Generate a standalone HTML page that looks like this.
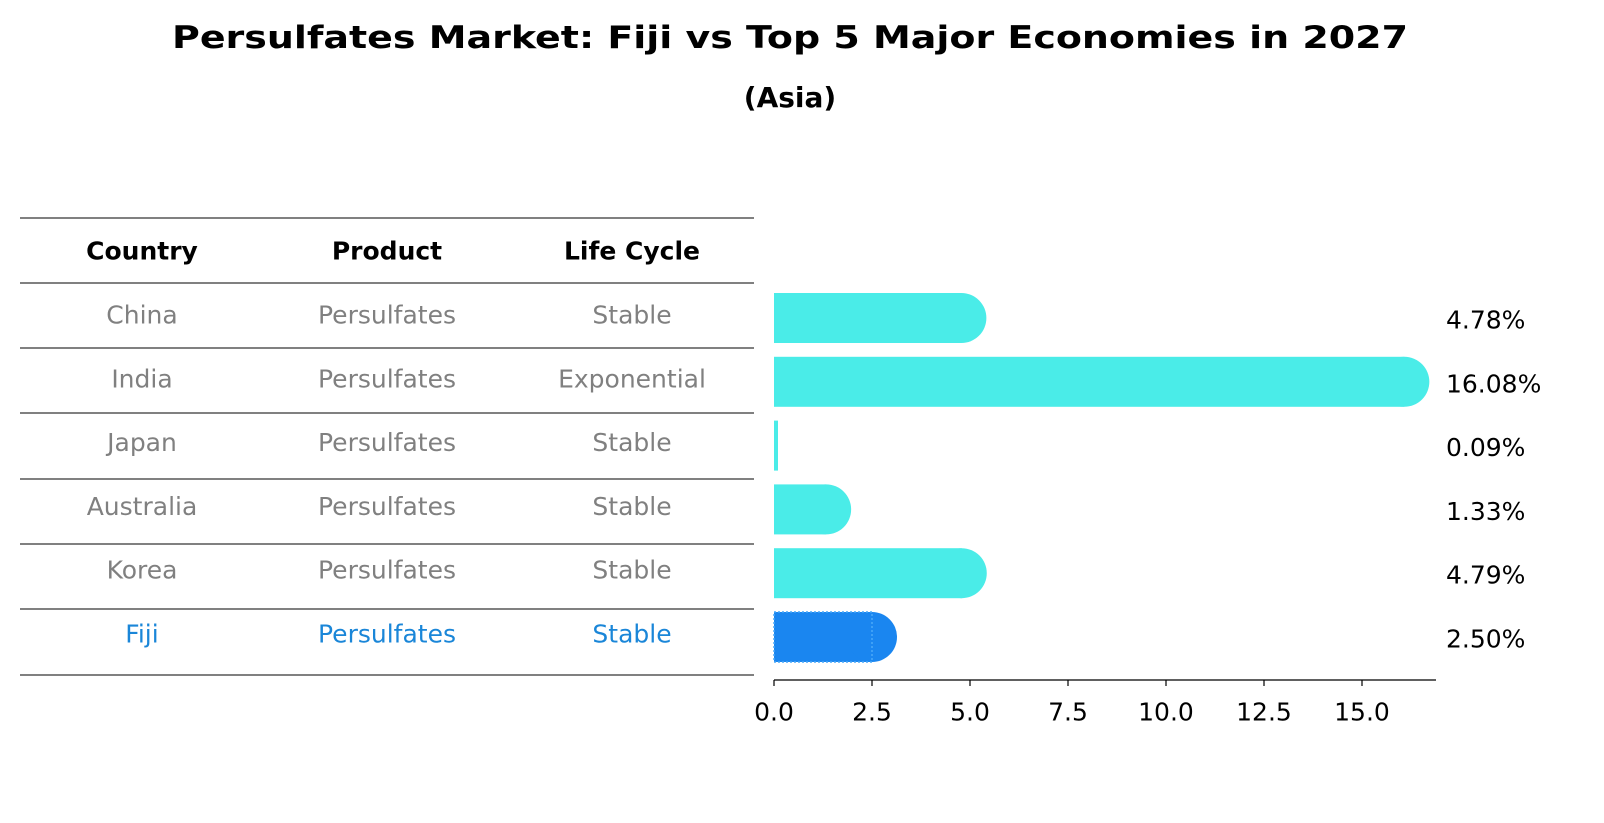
<!DOCTYPE html>
<html><head><meta charset="utf-8"><style>
html,body{margin:0;padding:0;background:#fff;width:1604px;height:823px;overflow:hidden;font-family:"DejaVu Sans","Liberation Sans",sans-serif;}
svg{display:block}
</style></head><body>
<svg width="1604" height="823" viewBox="0 0 1604 823" id="c" font-family="DejaVu Sans, Liberation Sans, sans-serif">
<text x="790" y="48" text-anchor="middle" font-size="31" font-weight="bold" textLength="1236" lengthAdjust="spacingAndGlyphs">Persulfates Market: Fiji vs Top 5 Major Economies in 2027</text>
<text x="790" y="107" text-anchor="middle" font-size="28" font-weight="bold">(Asia)</text>
<g id="table"></g>
<g id="bars"></g>
</svg>
<script>
const countries=["China","India","Japan","Australia","Korea","Fiji"];
const products=["Persulfates","Persulfates","Persulfates","Persulfates","Persulfates","Persulfates"];
const lifeCycles=["Stable","Exponential","Stable","Stable","Stable","Stable"];
const values=[4.78,16.08,0.09,1.33,4.79,2.50];
const valueLabels=["4.78%","16.08%","0.09%","1.33%","4.79%","2.50%"];
const ticks=[0,2.5,5,7.5,10,12.5,15];
const tickLabels=["0.0","2.5","5.0","7.5","10.0","12.5","15.0"];

const NS="http://www.w3.org/2000/svg";
function mk(tag,attrs,parent,text){const e=document.createElementNS(NS,tag);for(const k in attrs)e.setAttribute(k,attrs[k]);if(text!==undefined)e.textContent=text;parent.appendChild(e);return e;}
const tb=document.getElementById('table'), bg=document.getElementById('bars');
const x=v=>774+v*39.2;
const rowY=i=>318+i*63.8;
const lineYs=[218,283,348,413,479,544,609,675];
lineYs.forEach((ly)=>{const l=mk('line',{x1:20,x2:754,y1:ly,y2:ly,stroke:'#000','stroke-width':1},tb);

});
const colX=[142,387,632];
["Country","Product","Life Cycle"].forEach((h,j)=>{const t=mk('text',{x:colX[j],y:251,'text-anchor':'middle','font-size':25,'font-weight':'bold','dominant-baseline':'central'},tb,h);

});
countries.forEach((c,i)=>{
 const col=c==="Fiji"?'#1a86d8':'#808080';
 [c,products[i],lifeCycles[i]].forEach((s,j)=>{
  const t=mk('text',{x:colX[j],y:rowY(i)-3,'text-anchor':'middle','font-size':25,fill:col,'dominant-baseline':'central'},tb,s);
  
  
 });
});
values.forEach((v,i)=>{
 const y=rowY(i), h=50, fiji=countries[i]==="Fiji";
 const fill=fiji?'#1a86f0':'#4aece8';
 const g=mk('g',{},bg);
 
 
 const w=Math.max(x(v)-x(0),4);
 mk('rect',{x:x(0),y:y-h/2,width:w,height:h,fill:fill},g);
 if(v>0.5){mk('circle',{cx:x(v),cy:y,r:h/2,fill:fill},g);}
 if(fiji){mk('rect',{x:x(0),y:y-h/2,width:w,height:h,fill:'none',stroke:'#4aa8f8','stroke-width':1.5,'stroke-dasharray':'2,2'},g);}
 const t=mk('text',{x:1446,y:y+2,'font-size':25,'dominant-baseline':'central'},bg,valueLabels[i]);
 
 
});
const ax=mk('line',{x1:774,x2:1436,y1:680,y2:680,stroke:'#000','stroke-width':1.2},bg);


ticks.forEach((t,i)=>{
 const tk=mk('line',{x1:x(t),x2:x(t),y1:680,y2:686,stroke:'#000','stroke-width':1.2},bg);
 
 
 const lb=mk('text',{x:x(t),y:712,'text-anchor':'middle','font-size':25,'dominant-baseline':'central'},bg,tickLabels[i]);
 
 
});
</script>
</body></html>
